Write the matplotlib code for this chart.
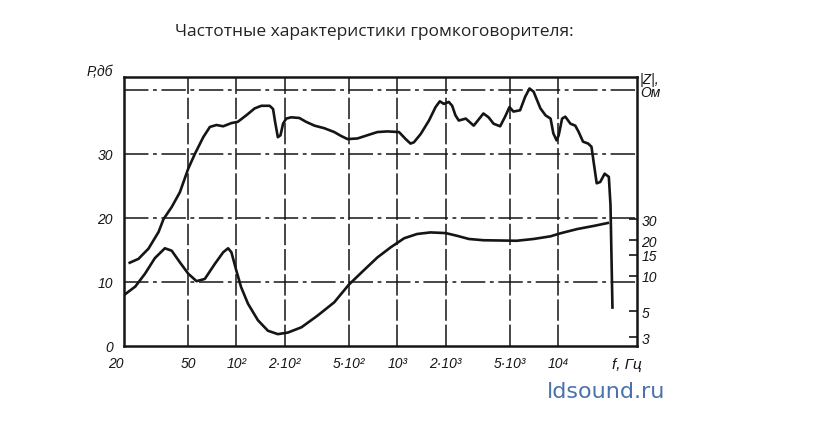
import matplotlib
matplotlib.use('Agg')
import matplotlib.pyplot as plt
from matplotlib.ticker import NullLocator

# звуковое давление P, дБ (верхняя кривая)
freq_p = [21.7, 24.6, 28.4, 32.8, 35.2, 39.6, 44.5, 50.2, 55.2, 62.2,
          68.4, 75.2, 82.7, 93.1, 102, 115, 130, 143, 161, 169,
          174, 181, 188, 195, 204, 219, 246, 271, 306, 352,
          406, 447, 491, 566, 652, 753, 868, 1026, 1129, 1210,
          1270, 1400, 1576, 1732, 1840, 1949, 2093, 2197, 2303, 2414,
          2670, 2990, 3290, 3435, 3700, 3975, 4365, 4687, 4990, 5280,
          5810, 6245, 6650, 7050, 7400, 7770, 8370, 8990, 9350, 9800,
          10100, 10600, 11100, 11950, 12800, 13450, 14300, 15400, 16150, 16700,
          17400, 18300, 19500, 20700, 21200, 21500, 21800]
spl_db = [13.0, 13.6, 15.2, 17.8, 19.8, 21.7, 24.0, 27.7, 30.0, 32.6,
          34.2, 34.5, 34.3, 34.8, 35.0, 36.0, 37.1, 37.5, 37.5, 37.0,
          35.0, 32.6, 32.9, 34.7, 35.5, 35.7, 35.6, 35.0, 34.4, 34.0,
          33.4, 32.8, 32.3, 32.4, 32.9, 33.4, 33.5, 33.4, 32.3, 31.6,
          31.8, 33.1, 35.2, 37.3, 38.2, 37.8, 38.1, 37.5, 36.0, 35.2,
          35.5, 34.4, 35.7, 36.3, 35.7, 34.7, 34.3, 35.8, 37.3, 36.6,
          36.8, 38.9, 40.2, 39.7, 38.4, 37.1, 36.0, 35.5, 33.2, 32.1,
          32.9, 35.5, 35.8, 34.7, 34.4, 33.4, 31.9, 31.6, 31.1, 28.5,
          25.4, 25.6, 26.9, 26.4, 22.0, 14.0, 6.0]

# модуль полного сопротивления |Z|, Ом (нижняя кривая)
freq_z = [20.4, 23.5, 27.0, 31.1, 35.9, 39.6, 44.5, 50.2, 56.5, 63.6,
          73.4, 82.7, 88.8, 93.1, 100, 107, 118, 136, 157, 181,
          209, 254, 320, 406, 500, 610, 753, 910, 1105, 1330,
          1610, 2000, 2360, 2790, 3440, 4365, 5530, 7050, 8990, 10350,
          13200, 16800, 20400]
imp_ohm = [7.0, 8.1, 10.4, 14.1, 17.1, 16.3, 13.0, 10.4, 9.0, 9.4,
           12.6, 15.8, 17.1, 15.8, 11.0, 8.0, 5.8, 4.2, 3.42, 3.2,
           3.3, 3.66, 4.6, 5.96, 8.4, 10.9, 14.3, 17.4, 20.8, 22.6,
           23.3, 23.0, 21.8, 20.5, 20.0, 19.9, 19.8, 20.5, 21.6, 22.9,
           24.9, 26.5, 28.0]

x_ticks = [20, 50, 100, 200, 500, 1000, 2000, 5000, 10000]
x_labels = ['20', '50', '10²', '2·10²', '5·10²', '10³', '2·10³', '5·10³', '10⁴']
y_ticks = [0, 10, 20, 30, 40]
y_labels = ['0', '10', '20', '30', '']
z_ticks = [3, 5, 10, 15, 20, 30]
z_labels = ['3', '5', '10', '15', '20', '30']

ink = '#151515'
lab_font = dict(family=['Liberation Sans', 'DejaVu Sans'], style='italic', fontsize=10, color=ink)

fig = plt.figure(figsize=(8.24, 4.27), dpi=100)
ax = fig.add_axes([0.1505, 0.1874, 0.6226, 0.6300])
ax.set_xscale('log')
ax.set_xlim(20, 31000)
ax.set_ylim(0, 42)

ax.set_xticks(x_ticks)
ax.set_xticklabels(x_labels, **lab_font)
ax.xaxis.set_minor_locator(NullLocator())
ax.set_yticks(y_ticks)
ax.set_yticklabels(y_labels, **lab_font)
ax.tick_params(axis='both', length=0)
ax.tick_params(axis='x', pad=7)
ax.tick_params(axis='y', pad=8)
ax.get_xticklabels()[0].set_ha('right')

ax.grid(axis='x', color=ink, lw=1.1, ls=(0, (14, 2.5)))
ax.grid(axis='y', color=ink, lw=1.1, ls=(0, (16, 3, 2.5, 3)))
# линии сетки на самой рамке не нужны
ax.xaxis.get_gridlines()[0].set_visible(False)
ax.yaxis.get_gridlines()[0].set_visible(False)
for s in ax.spines.values():
    s.set_linewidth(1.8)
    s.set_color(ink)
    s.set_zorder(5)

ax.plot(freq_p, spl_db, color=ink, lw=1.9, solid_joinstyle='round')

ax2 = ax.twinx()
ax2.set_yscale('log')
ax2.set_ylim(2.54, 484)
ax2.set_yticks(z_ticks)
ax2.set_yticklabels(z_labels, **lab_font)
ax2.yaxis.set_minor_locator(NullLocator())
ax2.tick_params(axis='y', direction='in', length=6, width=1.2, pad=3, color=ink)
for s in ax2.spines.values():
    s.set_visible(False)
ax2.plot(freq_z, imp_ohm, color=ink, lw=1.9, solid_joinstyle='round')

fig.text(87 / 824, 1 - 79 / 427, 'Р,дб', ha='left', va='bottom', **lab_font)
fig.text(640 / 824, 1 - 100 / 427, '|Z|,\nОм', ha='left', va='bottom',
         linespacing=0.9, **lab_font)
fig.text(627 / 824, 1 - 365 / 427, 'f, Гц', ha='center', va='center',
         family=['Liberation Sans', 'DejaVu Sans'], style='italic', fontsize=11, color=ink)

fig.text(374 / 824, 1 - 32 / 427, 'Частотные характеристики громкоговорителя:',
         ha='center', va='center', family='Open Sans', fontsize=12.5, color='#222222')
fig.text(547 / 824, 1 - 398 / 427, 'ldsound.ru', ha='left', va='baseline',
         family='DejaVu Sans', fontsize=16, color='#4a72ad')

fig.savefig('out.png', dpi=100)
